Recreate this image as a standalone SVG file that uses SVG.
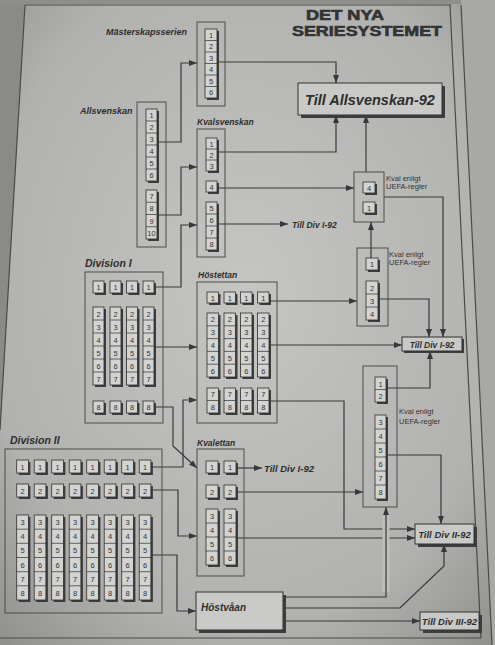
<svg xmlns="http://www.w3.org/2000/svg" width="495" height="645" viewBox="0 0 495 645">
<defs>
<radialGradient id="bg" cx="0.5" cy="0.45" r="0.75">
<stop offset="0" stop-color="#c5c6c3"/>
<stop offset="0.7" stop-color="#b1b2af"/>
<stop offset="1" stop-color="#8e8f8c"/>
</radialGradient>
<marker id="ah" viewBox="0 0 8 6" refX="8" refY="3" markerWidth="8" markerHeight="6" markerUnits="userSpaceOnUse" orient="auto"><path d="M0,0L8,3L0,6z" fill="#383838"/></marker>
<style>
.bx{fill:none;stroke:#4d4d4b;stroke-width:1}
.cell{fill:#d3d4d1;stroke:#2f2f2f;stroke-width:0.8}
.sh{fill:#3d3d3c}
.dv{fill:none;stroke:#2f2f2f;stroke-width:0.7}
.n{font-family:"Liberation Sans",Arial,sans-serif;font-size:7.5px;text-anchor:middle;fill:#333}
.lb{font-family:"Liberation Sans",Arial,sans-serif;font-style:italic;font-weight:bold;fill:#2e2e2e}
.sm{font-family:"Liberation Sans",Arial,sans-serif;font-size:7.5px;fill:#333}
.ln{fill:none;stroke:#383838;stroke-width:1.2}
.ar{marker-end:url(#ah)}
.tb{fill:#c9cac7;stroke:#333;stroke-width:1}
.ttl{font-family:"Liberation Sans",Arial,sans-serif;font-weight:bold;font-size:14px;fill:#333;stroke:#333;stroke-width:0.6}
</style>
</defs>
<rect width="495" height="645" fill="url(#bg)"/>
<!-- frame / page edges -->
<polygon points="0,0 25,0 25,4 0,430" fill="#8a8b88"/>
<rect x="0" y="0" width="495" height="4" fill="#8e8f8c"/>
<polygon points="461,0 495,0 495,645 492,645" fill="#a8a9a6"/>
<path d="M25,5L0,430M25,5H451M450,5L481,638M461,5L492,645M0,638H481" fill="none" stroke="#4a4a48" stroke-width="1.2"/>

<g id="title">
<text class="ttl" x="306" y="19.5" textLength="78" lengthAdjust="spacingAndGlyphs">DET NYA</text>
<text class="ttl" x="292" y="36" textLength="150" lengthAdjust="spacingAndGlyphs">SERIESYSTEMET</text>
</g>

<g id="connectors">
<path class="ln ar" d="M157,142H181V63H197"/>
<path class="ln ar" d="M217,62H336V83"/>
<path class="ln ar" d="M157,215H181V167H197"/>
<path class="ln ar" d="M154,287H181V225H197"/>
<path class="ln ar" d="M217,152H336V115"/>
<path class="ln ar" d="M217,188H354"/>
<path class="ln ar" d="M217,224H288"/>
<path class="ln ar" d="M366,172V115"/>
<path class="ln ar" d="M384,197H443V337"/>
<path class="ln ar" d="M371,258V222"/>
<path class="ln ar" d="M269,301H357"/>
<path class="ln ar" d="M378,299H429V337"/>
<path class="ln ar" d="M269,345H402"/>
<path class="ln ar" d="M386,388H430V351"/>
<path class="ln ar" d="M269,401H344V529H415"/>
<path class="ln ar" d="M154,347H197"/>
<path class="ln ar" d="M154,407H173V446L197,468"/>
<path class="ln ar" d="M151,467H183V400H197"/>
<path class="ln ar" d="M151,490H178V536H197"/>
<path class="ln ar" d="M151,555H177V611H196"/>
<path class="ln ar" d="M236,468H262"/>
<path class="ln ar" d="M236,492H363"/>
<path class="ln ar" d="M236,538H415"/>
<path class="ln ar" d="M386,455H441V524"/>
<path d="M386,592V512" fill="none" stroke="#bebfbc" stroke-width="7"/>
<path class="ln ar" d="M283,597H386V507"/>
<path class="ln ar" d="M283,608H400L444,566V544"/>
<path class="ln ar" d="M283,621H420"/>
<text class="lb" x="292" y="228" font-size="8.5">Till Div I-92</text>
<text class="lb" x="264" y="472" font-size="9.5">Till Div I-92</text>
</g>

<g id="n-mast">
<text class="lb" x="106" y="35" font-size="9">Mästerskapsserien</text>
<rect class="bx" x="197" y="22" width="28" height="84"/>
<rect class="sh" x="207" y="31" width="12" height="69"/>
<rect class="cell" x="205" y="29" width="12" height="69"/>
<path class="dv" d="M205,40.5h12M205,52h12M205,63.5h12M205,75h12M205,86.5h12"/>
<text class="n" x="211" y="37.5">1</text><text class="n" x="211" y="49">2</text><text class="n" x="211" y="60.5">3</text><text class="n" x="211" y="72">4</text><text class="n" x="211" y="83.5">5</text><text class="n" x="211" y="95">6</text>
</g>

<g id="n-tillallsv">
<rect class="sh" x="301" y="86" width="144" height="32"/>
<rect class="tb" x="298" y="83" width="144" height="32"/>
<text class="lb" x="370" y="105" font-size="14.5" text-anchor="middle">Till Allsvenskan-92</text>
</g>

<g id="n-allsv">
<text class="lb" x="80" y="114" font-size="9">Allsvenskan</text>
<rect class="bx" x="137" y="102" width="29" height="145"/>
<rect class="sh" x="148" y="111" width="11" height="72"/>
<rect class="cell" x="146" y="109" width="11" height="72"/>
<path class="dv" d="M146,121h11M146,133h11M146,145h11M146,157h11M146,169h11"/>
<text class="n" x="151.5" y="118">1</text><text class="n" x="151.5" y="130">2</text><text class="n" x="151.5" y="142">3</text><text class="n" x="151.5" y="154">4</text><text class="n" x="151.5" y="166">5</text><text class="n" x="151.5" y="178">6</text>
<rect class="sh" x="148" y="192" width="11" height="49"/>
<rect class="cell" x="146" y="190" width="11" height="49"/>
<path class="dv" d="M146,202.25h11M146,214.5h11M146,226.75h11"/>
<text class="n" x="151.5" y="199.1">7</text><text class="n" x="151.5" y="211.4">8</text><text class="n" x="151.5" y="223.6">9</text><text class="n" x="151.5" y="235.9">10</text>
</g>

<g id="n-kvalsv">
<text class="lb" x="197" y="125" font-size="8.5">Kvalsvenskan</text>
<rect class="bx" x="197" y="129" width="28" height="128"/>
<rect class="sh" x="208" y="140" width="11" height="33"/>
<rect class="cell" x="206" y="138" width="11" height="33"/>
<path class="dv" d="M206,149h11M206,160h11"/>
<text class="n" x="211.5" y="146.5">1</text><text class="n" x="211.5" y="157.5">2</text><text class="n" x="211.5" y="168.5">3</text>
<rect class="sh" x="208" y="183" width="11" height="11"/>
<rect class="cell" x="206" y="181" width="11" height="11"/>
<text class="n" x="211.5" y="189.5">4</text>
<rect class="sh" x="208" y="204" width="11" height="48"/>
<rect class="cell" x="206" y="202" width="11" height="48"/>
<path class="dv" d="M206,214h11M206,226h11M206,238h11"/>
<text class="n" x="211.5" y="211">5</text><text class="n" x="211.5" y="223">6</text><text class="n" x="211.5" y="235">7</text><text class="n" x="211.5" y="247">8</text>
</g>

<g id="n-uefa1">
<rect class="bx" x="354" y="172" width="30" height="50"/>
<rect class="sh" x="365" y="184" width="12" height="11"/>
<rect class="cell" x="363" y="182" width="12" height="11"/>
<text class="n" x="369" y="190.5">4</text>
<rect class="sh" x="365" y="204" width="12" height="11"/>
<rect class="cell" x="363" y="202" width="12" height="11"/>
<text class="n" x="369" y="210.5">1</text>
<text class="sm" x="386" y="181">Kval enligt</text>
<text class="sm" x="386" y="189">UEFA-regler</text>
</g>

<g id="n-uefa2">
<rect class="bx" x="357" y="248" width="31" height="78"/>
<rect class="sh" x="368" y="260" width="12" height="12"/>
<rect class="cell" x="366" y="258" width="12" height="12"/>
<text class="n" x="372" y="267">1</text>
<rect class="sh" x="368" y="283" width="12" height="39"/>
<rect class="cell" x="366" y="281" width="12" height="39"/>
<path class="dv" d="M366,294h12M366,307h12"/>
<text class="n" x="372" y="290.5">2</text><text class="n" x="372" y="303.5">3</text><text class="n" x="372" y="316.5">4</text>
<text class="sm" x="389" y="257">Kval enligt</text>
<text class="sm" x="389" y="265">UEFA-regler</text>
</g>

<g id="n-uefa3">
<rect class="bx" x="363" y="366" width="34" height="141"/>
<rect class="sh" x="377" y="379" width="11" height="25"/>
<rect class="cell" x="375" y="377" width="11" height="25"/>
<path class="dv" d="M375,389.5h11"/>
<text class="n" x="380.5" y="386.5">1</text><text class="n" x="380.5" y="399">2</text>
<rect class="sh" x="377" y="417" width="11" height="84"/>
<rect class="cell" x="375" y="415" width="11" height="84"/>
<path class="dv" d="M375,429h11M375,443h11M375,457h11M375,471h11M375,485h11"/>
<text class="n" x="380.5" y="425">3</text><text class="n" x="380.5" y="439">4</text><text class="n" x="380.5" y="453">5</text><text class="n" x="380.5" y="467">6</text><text class="n" x="380.5" y="481">7</text><text class="n" x="380.5" y="495">8</text>
<text class="sm" x="399" y="414" font-size="8">Kval enligt</text>
<text class="sm" x="399" y="424" font-size="8">UEFA-regler</text>
</g>

<g id="n-tilldiv1">
<rect class="sh" x="404" y="339" width="60" height="14"/>
<rect class="tb" x="402" y="337" width="60" height="14"/>
<text class="lb" x="432" y="347.5" font-size="8.5" text-anchor="middle">Till Div I-92</text>
</g>

<g id="n-tilldiv2">
<rect class="sh" x="418" y="527" width="59" height="20"/>
<rect class="tb" x="415" y="524" width="59" height="20"/>
<text class="lb" x="444.5" y="537.5" font-size="9.5" text-anchor="middle">Till Div II-92</text>
</g>

<g id="n-tilldiv3">
<rect class="sh" x="423" y="615" width="59" height="18"/>
<rect class="tb" x="420" y="612" width="59" height="18"/>
<text class="lb" x="449.5" y="624.5" font-size="9.5" text-anchor="middle">Till Div III-92</text>
</g>

<g id="n-div1">
<text class="lb" x="85" y="267" font-size="10.5">Division I</text>
<rect class="bx" x="85" y="272" width="78" height="151"/>
<rect class="sh" x="95" y="283" width="11" height="12"/><rect class="cell" x="93" y="281" width="11" height="12"/>
<rect class="sh" x="112" y="283" width="11" height="12"/><rect class="cell" x="110" y="281" width="11" height="12"/>
<rect class="sh" x="128.5" y="283" width="11" height="12"/><rect class="cell" x="126.5" y="281" width="11" height="12"/>
<rect class="sh" x="145" y="283" width="11" height="12"/><rect class="cell" x="143" y="281" width="11" height="12"/>
<text class="n" x="98.5" y="290">1</text><text class="n" x="115.5" y="290">1</text><text class="n" x="132" y="290">1</text><text class="n" x="148.5" y="290">1</text>
<rect class="sh" x="95" y="309" width="11" height="78"/><rect class="cell" x="93" y="307" width="11" height="78"/>
<rect class="sh" x="112" y="309" width="11" height="78"/><rect class="cell" x="110" y="307" width="11" height="78"/>
<rect class="sh" x="128.5" y="309" width="11" height="78"/><rect class="cell" x="126.5" y="307" width="11" height="78"/>
<rect class="sh" x="145" y="309" width="11" height="78"/><rect class="cell" x="143" y="307" width="11" height="78"/>
<path class="dv" d="M93,320h11m6,0h11m5.5,0h11m5.5,0h11M93,333h11m6,0h11m5.5,0h11m5.5,0h11M93,346h11m6,0h11m5.5,0h11m5.5,0h11M93,359h11m6,0h11m5.5,0h11m5.5,0h11M93,372h11m6,0h11m5.5,0h11m5.5,0h11"/>
<text class="n" x="98.5" y="316.5">2</text><text class="n" x="115.5" y="316.5">2</text><text class="n" x="132" y="316.5">2</text><text class="n" x="148.5" y="316.5">2</text>
<text class="n" x="98.5" y="329.5">3</text><text class="n" x="115.5" y="329.5">3</text><text class="n" x="132" y="329.5">3</text><text class="n" x="148.5" y="329.5">3</text>
<text class="n" x="98.5" y="342.5">4</text><text class="n" x="115.5" y="342.5">4</text><text class="n" x="132" y="342.5">4</text><text class="n" x="148.5" y="342.5">4</text>
<text class="n" x="98.5" y="355.5">5</text><text class="n" x="115.5" y="355.5">5</text><text class="n" x="132" y="355.5">5</text><text class="n" x="148.5" y="355.5">5</text>
<text class="n" x="98.5" y="368.5">6</text><text class="n" x="115.5" y="368.5">6</text><text class="n" x="132" y="368.5">6</text><text class="n" x="148.5" y="368.5">6</text>
<text class="n" x="98.5" y="381.5">7</text><text class="n" x="115.5" y="381.5">7</text><text class="n" x="132" y="381.5">7</text><text class="n" x="148.5" y="381.5">7</text>
<rect class="sh" x="95" y="403" width="11" height="12"/><rect class="cell" x="93" y="401" width="11" height="12"/>
<rect class="sh" x="112" y="403" width="11" height="12"/><rect class="cell" x="110" y="401" width="11" height="12"/>
<rect class="sh" x="128.5" y="403" width="11" height="12"/><rect class="cell" x="126.5" y="401" width="11" height="12"/>
<rect class="sh" x="145" y="403" width="11" height="12"/><rect class="cell" x="143" y="401" width="11" height="12"/>
<text class="n" x="98.5" y="410">8</text><text class="n" x="115.5" y="410">8</text><text class="n" x="132" y="410">8</text><text class="n" x="148.5" y="410">8</text>
</g>

<g id="n-host1">
<text class="lb" x="198" y="278" font-size="8.5">Höstettan</text>
<rect class="bx" x="197" y="282" width="80" height="141"/>
<rect class="sh" x="209" y="294" width="11.5" height="11"/><rect class="cell" x="207" y="292" width="11.5" height="11"/>
<rect class="sh" x="226" y="294" width="11.5" height="11"/><rect class="cell" x="224" y="292" width="11.5" height="11"/>
<rect class="sh" x="242.5" y="294" width="11.5" height="11"/><rect class="cell" x="240.5" y="292" width="11.5" height="11"/>
<rect class="sh" x="259.5" y="294" width="11.5" height="11"/><rect class="cell" x="257.5" y="292" width="11.5" height="11"/>
<text class="n" x="212.75" y="300.5">1</text><text class="n" x="229.75" y="300.5">1</text><text class="n" x="246.25" y="300.5">1</text><text class="n" x="263.25" y="300.5">1</text>
<rect class="sh" x="209" y="315" width="11.5" height="64"/><rect class="cell" x="207" y="313" width="11.5" height="64"/>
<rect class="sh" x="226" y="315" width="11.5" height="64"/><rect class="cell" x="224" y="313" width="11.5" height="64"/>
<rect class="sh" x="242.5" y="315" width="11.5" height="64"/><rect class="cell" x="240.5" y="313" width="11.5" height="64"/>
<rect class="sh" x="259.5" y="315" width="11.5" height="64"/><rect class="cell" x="257.5" y="313" width="11.5" height="64"/>
<path class="dv" d="M207,325.8h11.5m5.5,0h11.5m5,0h11.5m5.5,0h11.5M207,338.6h11.5m5.5,0h11.5m5,0h11.5m5.5,0h11.5M207,351.4h11.5m5.5,0h11.5m5,0h11.5m5.5,0h11.5M207,364.2h11.5m5.5,0h11.5m5,0h11.5m5.5,0h11.5"/>
<text class="n" x="212.75" y="322.4">2</text><text class="n" x="229.75" y="322.4">2</text><text class="n" x="246.25" y="322.4">2</text><text class="n" x="263.25" y="322.4">2</text>
<text class="n" x="212.75" y="335.2">3</text><text class="n" x="229.75" y="335.2">3</text><text class="n" x="246.25" y="335.2">3</text><text class="n" x="263.25" y="335.2">3</text>
<text class="n" x="212.75" y="348">4</text><text class="n" x="229.75" y="348">4</text><text class="n" x="246.25" y="348">4</text><text class="n" x="263.25" y="348">4</text>
<text class="n" x="212.75" y="360.8">5</text><text class="n" x="229.75" y="360.8">5</text><text class="n" x="246.25" y="360.8">5</text><text class="n" x="263.25" y="360.8">5</text>
<text class="n" x="212.75" y="373.6">6</text><text class="n" x="229.75" y="373.6">6</text><text class="n" x="246.25" y="373.6">6</text><text class="n" x="263.25" y="373.6">6</text>
<rect class="sh" x="209" y="390" width="11.5" height="25"/><rect class="cell" x="207" y="388" width="11.5" height="25"/>
<rect class="sh" x="226" y="390" width="11.5" height="25"/><rect class="cell" x="224" y="388" width="11.5" height="25"/>
<rect class="sh" x="242.5" y="390" width="11.5" height="25"/><rect class="cell" x="240.5" y="388" width="11.5" height="25"/>
<rect class="sh" x="259.5" y="390" width="11.5" height="25"/><rect class="cell" x="257.5" y="388" width="11.5" height="25"/>
<path class="dv" d="M207,400.5h11.5m5.5,0h11.5m5,0h11.5m5.5,0h11.5"/>
<text class="n" x="212.75" y="397.2">7</text><text class="n" x="229.75" y="397.2">7</text><text class="n" x="246.25" y="397.2">7</text><text class="n" x="263.25" y="397.2">7</text>
<text class="n" x="212.75" y="409.7">8</text><text class="n" x="229.75" y="409.7">8</text><text class="n" x="246.25" y="409.7">8</text><text class="n" x="263.25" y="409.7">8</text>
</g>

<g id="n-div2">
<text class="lb" x="10" y="444" font-size="10.5">Division II</text>
<rect class="bx" x="5" y="449" width="157" height="164"/>
<g>
<rect class="sh" x="18.7" y="462" width="11.7" height="13"/><rect class="cell" x="16.7" y="460" width="11.7" height="13"/>
<rect class="sh" x="36.2" y="462" width="11.7" height="13"/><rect class="cell" x="34.2" y="460" width="11.7" height="13"/>
<rect class="sh" x="53.7" y="462" width="11.7" height="13"/><rect class="cell" x="51.7" y="460" width="11.7" height="13"/>
<rect class="sh" x="71.2" y="462" width="11.7" height="13"/><rect class="cell" x="69.2" y="460" width="11.7" height="13"/>
<rect class="sh" x="88.7" y="462" width="11.7" height="13"/><rect class="cell" x="86.7" y="460" width="11.7" height="13"/>
<rect class="sh" x="106.2" y="462" width="11.7" height="13"/><rect class="cell" x="104.2" y="460" width="11.7" height="13"/>
<rect class="sh" x="123.7" y="462" width="11.7" height="13"/><rect class="cell" x="121.7" y="460" width="11.7" height="13"/>
<rect class="sh" x="141.2" y="462" width="11.7" height="13"/><rect class="cell" x="139.2" y="460" width="11.7" height="13"/>
</g>
<text class="n" x="22.55" y="469.5">1</text><text class="n" x="40.05" y="469.5">1</text><text class="n" x="57.55" y="469.5">1</text><text class="n" x="75.05" y="469.5">1</text><text class="n" x="92.55" y="469.5">1</text><text class="n" x="110.05" y="469.5">1</text><text class="n" x="127.55" y="469.5">1</text><text class="n" x="145.05" y="469.5">1</text>
<g>
<rect class="sh" x="18.7" y="486" width="11.7" height="13"/><rect class="cell" x="16.7" y="484" width="11.7" height="13"/>
<rect class="sh" x="36.2" y="486" width="11.7" height="13"/><rect class="cell" x="34.2" y="484" width="11.7" height="13"/>
<rect class="sh" x="53.7" y="486" width="11.7" height="13"/><rect class="cell" x="51.7" y="484" width="11.7" height="13"/>
<rect class="sh" x="71.2" y="486" width="11.7" height="13"/><rect class="cell" x="69.2" y="484" width="11.7" height="13"/>
<rect class="sh" x="88.7" y="486" width="11.7" height="13"/><rect class="cell" x="86.7" y="484" width="11.7" height="13"/>
<rect class="sh" x="106.2" y="486" width="11.7" height="13"/><rect class="cell" x="104.2" y="484" width="11.7" height="13"/>
<rect class="sh" x="123.7" y="486" width="11.7" height="13"/><rect class="cell" x="121.7" y="484" width="11.7" height="13"/>
<rect class="sh" x="141.2" y="486" width="11.7" height="13"/><rect class="cell" x="139.2" y="484" width="11.7" height="13"/>
</g>
<text class="n" x="22.55" y="493.5">2</text><text class="n" x="40.05" y="493.5">2</text><text class="n" x="57.55" y="493.5">2</text><text class="n" x="75.05" y="493.5">2</text><text class="n" x="92.55" y="493.5">2</text><text class="n" x="110.05" y="493.5">2</text><text class="n" x="127.55" y="493.5">2</text><text class="n" x="145.05" y="493.5">2</text>
<g>
<rect class="sh" x="18.7" y="517" width="11.7" height="85"/><rect class="cell" x="16.7" y="515" width="11.7" height="85"/>
<rect class="sh" x="36.2" y="517" width="11.7" height="85"/><rect class="cell" x="34.2" y="515" width="11.7" height="85"/>
<rect class="sh" x="53.7" y="517" width="11.7" height="85"/><rect class="cell" x="51.7" y="515" width="11.7" height="85"/>
<rect class="sh" x="71.2" y="517" width="11.7" height="85"/><rect class="cell" x="69.2" y="515" width="11.7" height="85"/>
<rect class="sh" x="88.7" y="517" width="11.7" height="85"/><rect class="cell" x="86.7" y="515" width="11.7" height="85"/>
<rect class="sh" x="106.2" y="517" width="11.7" height="85"/><rect class="cell" x="104.2" y="515" width="11.7" height="85"/>
<rect class="sh" x="123.7" y="517" width="11.7" height="85"/><rect class="cell" x="121.7" y="515" width="11.7" height="85"/>
<rect class="sh" x="141.2" y="517" width="11.7" height="85"/><rect class="cell" x="139.2" y="515" width="11.7" height="85"/>
<path class="dv" d="M16.7,529.2h11.7m5.8,0h11.7m5.8,0h11.7m5.8,0h11.7m5.8,0h11.7m5.8,0h11.7m5.8,0h11.7m5.8,0h11.7M16.7,543.3h11.7m5.8,0h11.7m5.8,0h11.7m5.8,0h11.7m5.8,0h11.7m5.8,0h11.7m5.8,0h11.7m5.8,0h11.7M16.7,557.5h11.7m5.8,0h11.7m5.8,0h11.7m5.8,0h11.7m5.8,0h11.7m5.8,0h11.7m5.8,0h11.7m5.8,0h11.7M16.7,571.7h11.7m5.8,0h11.7m5.8,0h11.7m5.8,0h11.7m5.8,0h11.7m5.8,0h11.7m5.8,0h11.7m5.8,0h11.7M16.7,585.8h11.7m5.8,0h11.7m5.8,0h11.7m5.8,0h11.7m5.8,0h11.7m5.8,0h11.7m5.8,0h11.7m5.8,0h11.7"/>
</g>
<text class="n" x="22.55" y="525.1">3</text><text class="n" x="40.05" y="525.1">3</text><text class="n" x="57.55" y="525.1">3</text><text class="n" x="75.05" y="525.1">3</text><text class="n" x="92.55" y="525.1">3</text><text class="n" x="110.05" y="525.1">3</text><text class="n" x="127.55" y="525.1">3</text><text class="n" x="145.05" y="525.1">3</text>
<text class="n" x="22.55" y="539.3">4</text><text class="n" x="40.05" y="539.3">4</text><text class="n" x="57.55" y="539.3">4</text><text class="n" x="75.05" y="539.3">4</text><text class="n" x="92.55" y="539.3">4</text><text class="n" x="110.05" y="539.3">4</text><text class="n" x="127.55" y="539.3">4</text><text class="n" x="145.05" y="539.3">4</text>
<text class="n" x="22.55" y="553.4">5</text><text class="n" x="40.05" y="553.4">5</text><text class="n" x="57.55" y="553.4">5</text><text class="n" x="75.05" y="553.4">5</text><text class="n" x="92.55" y="553.4">5</text><text class="n" x="110.05" y="553.4">5</text><text class="n" x="127.55" y="553.4">5</text><text class="n" x="145.05" y="553.4">5</text>
<text class="n" x="22.55" y="567.6">6</text><text class="n" x="40.05" y="567.6">6</text><text class="n" x="57.55" y="567.6">6</text><text class="n" x="75.05" y="567.6">6</text><text class="n" x="92.55" y="567.6">6</text><text class="n" x="110.05" y="567.6">6</text><text class="n" x="127.55" y="567.6">6</text><text class="n" x="145.05" y="567.6">6</text>
<text class="n" x="22.55" y="581.8">7</text><text class="n" x="40.05" y="581.8">7</text><text class="n" x="57.55" y="581.8">7</text><text class="n" x="75.05" y="581.8">7</text><text class="n" x="92.55" y="581.8">7</text><text class="n" x="110.05" y="581.8">7</text><text class="n" x="127.55" y="581.8">7</text><text class="n" x="145.05" y="581.8">7</text>
<text class="n" x="22.55" y="595.9">8</text><text class="n" x="40.05" y="595.9">8</text><text class="n" x="57.55" y="595.9">8</text><text class="n" x="75.05" y="595.9">8</text><text class="n" x="92.55" y="595.9">8</text><text class="n" x="110.05" y="595.9">8</text><text class="n" x="127.55" y="595.9">8</text><text class="n" x="145.05" y="595.9">8</text>
</g>

<g id="n-kvalett">
<text class="lb" x="197" y="446" font-size="8.5">Kvalettan</text>
<rect class="bx" x="197" y="449" width="47" height="127"/>
<rect class="sh" x="208" y="463" width="12" height="12"/><rect class="cell" x="206" y="461" width="12" height="12"/>
<rect class="sh" x="226" y="463" width="12" height="12"/><rect class="cell" x="224" y="461" width="12" height="12"/>
<text class="n" x="212" y="470">1</text><text class="n" x="230" y="470">1</text>
<rect class="sh" x="208" y="487" width="12" height="13"/><rect class="cell" x="206" y="485" width="12" height="13"/>
<rect class="sh" x="226" y="487" width="12" height="13"/><rect class="cell" x="224" y="485" width="12" height="13"/>
<text class="n" x="212" y="494.5">2</text><text class="n" x="230" y="494.5">2</text>
<rect class="sh" x="208" y="511" width="12" height="56"/><rect class="cell" x="206" y="509" width="12" height="56"/>
<rect class="sh" x="226" y="511" width="12" height="56"/><rect class="cell" x="224" y="509" width="12" height="56"/>
<path class="dv" d="M206,523h12m6,0h12M206,537h12m6,0h12M206,551h12m6,0h12"/>
<text class="n" x="212" y="519">3</text><text class="n" x="230" y="519">3</text>
<text class="n" x="212" y="533">4</text><text class="n" x="230" y="533">4</text>
<text class="n" x="212" y="547">5</text><text class="n" x="230" y="547">5</text>
<text class="n" x="212" y="561">6</text><text class="n" x="230" y="561">6</text>
</g>

<g id="n-hostva">
<rect class="sh" x="199" y="595" width="87" height="38"/>
<rect class="tb" x="196" y="592" width="87" height="38"/>
<text class="lb" x="201" y="611" font-size="10">Höstvåan</text>
</g>
</svg>
